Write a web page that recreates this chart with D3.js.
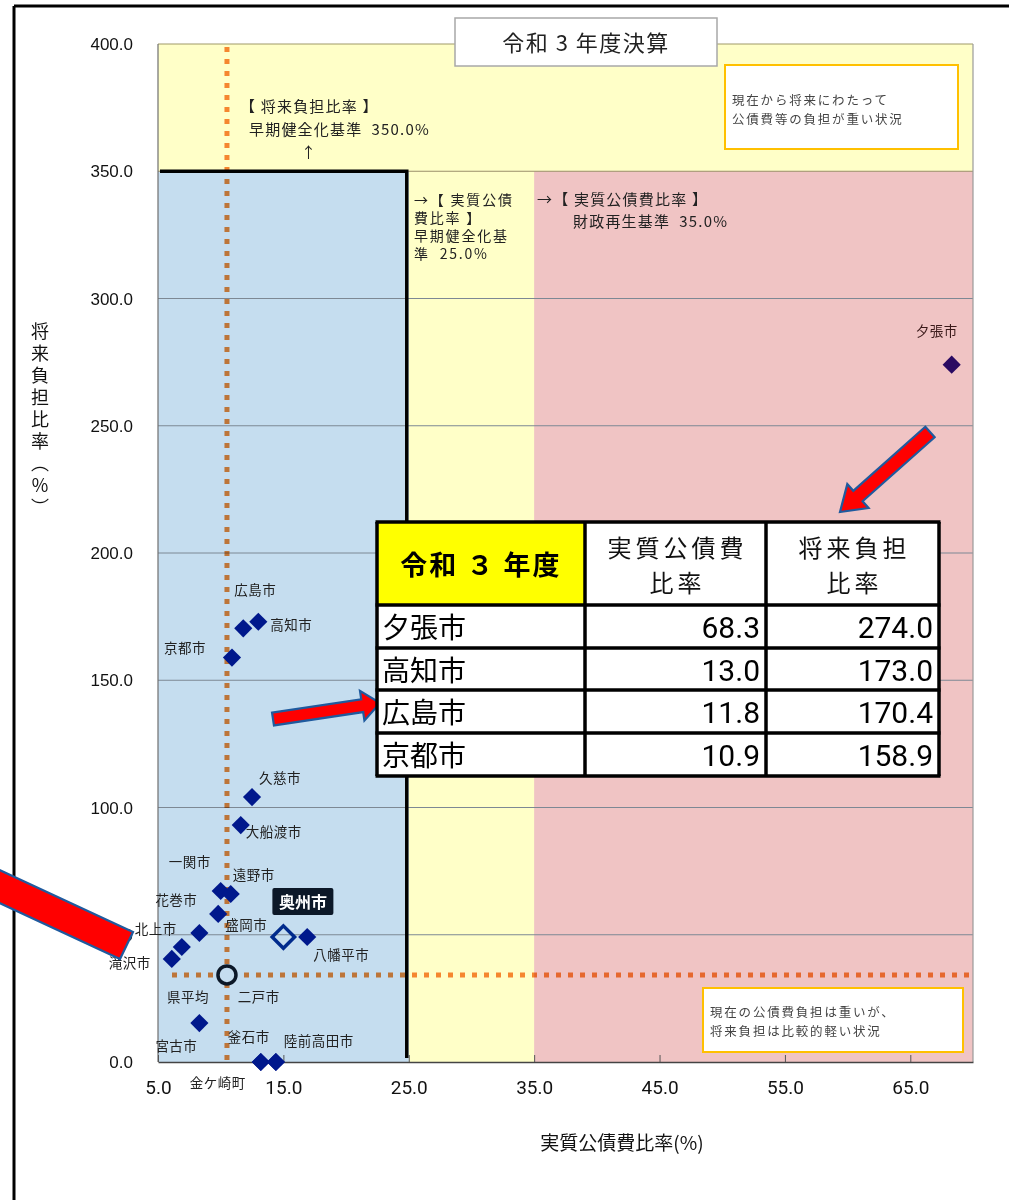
<!DOCTYPE html>
<html>
<head>
<meta charset="utf-8">
<script src="https://cdn.jsdelivr.net/npm/d3@7"></script>
<style>
  body { margin: 0; background: #fff; }
  svg text { font-family: "Noto Sans CJK JP", "Noto Sans", sans-serif; }
  svg text.num { font-family: Roboto, "Liberation Sans", sans-serif; }
</style>
</head>
<body>
<svg id="chart" width="1009" height="1200"></svg>
<script>
// ---- data ----
const cityNames   = ["夕張市", "高知市", "広島市", "京都市", "久慈市", "大船渡市", "一関市", "遠野市", "盛岡市", "花巻市",
                     "北上市", "滝沢市", "宮古市", "金ケ崎町", "釜石市", "二戸市", "陸前高田市", "八幡平市", "奥州市"];
const debtRatio   = [68.3, 13.0, 11.8, 10.9, 12.5, 11.6, 10.0, 10.8, 9.8, 8.3,
                     6.9, 6.1, 8.3, 13.2, 13.2, 14.4, 14.4, 16.9, 15.0];
const futureRatio = [274.0, 173.0, 170.4, 158.9, 104.1, 93.1, 67.2, 66.0, 58.2, 50.7,
                     45.2, 40.5, 15.3, 0, 0, 0, 0, 49.1, 49.1];
const highlightCity = "奥州市";
const avgName = "県平均";
const avgDebt = 10.5;
const avgFuture = 34.2;
const tableCities = ["夕張市", "高知市", "広島市", "京都市"];
const xTicks = [5, 15, 25, 35, 45, 55, 65];
const yTicks = [0, 50, 100, 150, 200, 250, 300, 350, 400];
const futureEarly = 350;   // 将来負担比率 早期健全化基準
const debtEarly = 25;      // 実質公債費比率 早期健全化基準
const debtRebuild = 35;    // 実質公債費比率 財政再生基準

const points = cityNames.map((n, i) => ({ name: n, x: debtRatio[i], y: futureRatio[i] }));

// label offsets from each marker (px): [dx, dy, anchor]
const labelPos = {
  "夕張市": [-15, -29, "middle"], "高知市": [12, 8, "start"], "広島市": [-9, -33, "start"],
  "京都市": [-26, -5, "end"], "久慈市": [7, -14, "start"], "大船渡市": [5, 12, "start"],
  "一関市": [-10, -24, "end"], "遠野市": [2, -14, "start"], "盛岡市": [7, 16, "start"],
  "花巻市": [-2, -28, "end"], "北上市": [-5, -13, "end"], "滝沢市": [-21, 9, "end"],
  "宮古市": [-2, 28, "end"], "金ケ崎町": [-15, 26, "end"], "釜石市": [-33, -20, "start"],
  "二戸市": [-38, -60, "start"], "陸前高田市": [8, -16, "start"], "八幡平市": [6, 23, "start"],
  "県平均": [-18, 27, "end"]
};

// ---- layout ----
const svg = d3.select("#chart");
const x = d3.scaleLinear().domain([5, 70]).range([158, 973]);
const y = d3.scaleLinear().domain([0, 400]).range([1062, 44]);

// outer frame
svg.append("line").attr("x1", 14).attr("x2", 1009).attr("y1", 6).attr("y2", 6)
  .attr("stroke", "#000").attr("stroke-width", 3);
svg.append("line").attr("x1", 14).attr("x2", 14).attr("y1", 6).attr("y2", 1200)
  .attr("stroke", "#000").attr("stroke-width", 3);

// zones
const zones = svg.append("g");
zones.append("rect").attr("x", x(5)).attr("y", y(400)).attr("width", x(70) - x(5)).attr("height", y(0) - y(400))
  .attr("fill", "#ffffc8");
zones.append("rect").attr("x", x(5)).attr("y", y(futureEarly)).attr("width", x(debtEarly) - x(5))
  .attr("height", y(0) - y(futureEarly)).attr("fill", "#c5ddef");
zones.append("rect").attr("x", x(debtRebuild)).attr("y", y(futureEarly)).attr("width", x(70) - x(debtRebuild))
  .attr("height", y(0) - y(futureEarly)).attr("fill", "#f0c4c4");

// gridlines
svg.append("g").selectAll("line").data(yTicks.filter(d => d > 0 && d < 400)).join("line")
  .attr("x1", x(5)).attr("x2", x(70)).attr("y1", d => y(d)).attr("y2", d => y(d))
  .attr("stroke", d => d === futureEarly ? "#9a8f6a" : "#7d8894").attr("stroke-width", 1);

// plot border
svg.append("line").attr("x1", x(5)).attr("x2", x(70)).attr("y1", y(400)).attr("y2", y(400))
  .attr("stroke", "#a09a68").attr("stroke-width", 1.2);
svg.append("line").attr("x1", x(70)).attr("x2", x(70)).attr("y1", y(400)).attr("y2", y(0))
  .attr("stroke", "#9a9a9a").attr("stroke-width", 1.2);
svg.append("line").attr("x1", x(5)).attr("x2", x(5)).attr("y1", y(400)).attr("y2", y(0))
  .attr("stroke", "#6f6f6f").attr("stroke-width", 1.2);

// x axis
const xAxis = svg.append("g").attr("transform", `translate(0,${y(0)})`)
  .call(d3.axisBottom(x).tickValues(xTicks).tickSizeInner(-7).tickSizeOuter(0).tickFormat(d3.format(".1f")));
xAxis.select(".domain").attr("stroke", "#444").attr("stroke-width", 1.5);
xAxis.selectAll(".tick line").attr("stroke", "#555");
xAxis.selectAll(".tick text").attr("y", 19).attr("font-size", 19).attr("fill", "#111")
  .attr("class", "num");

// y axis labels
svg.append("g").selectAll("text").data(yTicks).join("text")
  .attr("x", 133).attr("y", d => y(d) + 6).attr("text-anchor", "end")
  .attr("font-size", 17).attr("fill", "#111")
  .style("font-family", '"Liberation Sans", Arial, sans-serif')
  .text(d => d3.format(".1f")(d));

// axis titles
svg.append("text").attr("x", 622).attr("y", 1150).attr("text-anchor", "middle")
  .attr("font-size", 19).attr("fill", "#111")
  .text("実質公債費比率(%)");
svg.append("text").attr("transform", "translate(40,322)")
  .style("writing-mode", "vertical-rl").attr("font-size", 18).attr("letter-spacing", 4)
  .attr("fill", "#111").text("将来負担比率（％）");

// criteria line (black)
svg.append("path")
  .attr("d", `M${x(5) + 2},${y(futureEarly)} H${x(debtEarly) - 2} V${y(0) - 4}`)
  .attr("fill", "none").attr("stroke", "#000").attr("stroke-width", 3.5);

// average dotted lines
const dots = svg.append("g").style("mix-blend-mode", "multiply");
dots.append("line").attr("x1", x(avgDebt)).attr("x2", x(avgDebt)).attr("y1", y(400) + 3).attr("y2", y(0) - 2)
  .attr("stroke", "#f5873c").attr("stroke-width", 5).attr("stroke-dasharray", "5,7");
dots.append("line").attr("x1", x(5) + 14).attr("x2", x(70)).attr("y1", y(avgFuture)).attr("y2", y(avgFuture))
  .attr("stroke", "#f5873c").attr("stroke-width", 5).attr("stroke-dasharray", "5,7");

// annotations text
const ann = svg.append("g").attr("fill", "#222");
[["【 将来負担比率 】", 240, 112], ["早期健全化基準  350.0%", 249, 135], ["↑", 301, 158],
 ["→【 実質公債", 414, 205], ["費比率 】", 414, 223], ["早期健全化基", 414, 241], ["準  25.0%", 414, 259],
 ["→【 実質公債費比率 】", 537, 205], ["財政再生基準  35.0%", 573, 227]]
  .forEach(([t, tx, ty]) => ann.append("text").attr("x", tx).attr("y", ty)
    .attr("font-size", tx === 414 ? 14 : 15).attr("letter-spacing", tx === 414 ? 1.8 : 1.2)
    .attr("xml:space", "preserve").text(t));

// title box
svg.append("rect").attr("x", 455).attr("y", 18).attr("width", 262).attr("height", 48)
  .attr("fill", "#fff").attr("stroke", "#a8a8a8").attr("stroke-width", 1.5);
svg.append("text").attr("x", 586).attr("y", 51).attr("text-anchor", "middle")
  .attr("font-size", 22).attr("letter-spacing", 1.5).attr("fill", "#222").text("令和 3 年度決算");

// note boxes
function noteBox(bx, by, bw, bh, lines, ly) {
  svg.append("rect").attr("x", bx).attr("y", by).attr("width", bw).attr("height", bh)
    .attr("fill", "#fff").attr("stroke", "#ffc000").attr("stroke-width", 2);
  lines.forEach((t, i) => svg.append("text").attr("x", bx + 7).attr("y", ly + i * 18.5)
    .attr("font-size", 12.5).attr("letter-spacing", 1.8).attr("fill", "#444").text(t));
}
noteBox(725, 65, 233, 84, ["現在から将来にわたって", "公債費等の負担が重い状況"], 105);
noteBox(703, 988, 260, 64, ["現在の公債費負担は重いが、", "将来負担は比較的軽い状況"], 1017);

// points
const sym = d3.symbol(d3.symbolSquare, 165);
svg.append("g").selectAll("path").data(points.filter(d => d.name !== highlightCity)).join("path")
  .attr("d", sym)
  .attr("transform", d => `translate(${x(d.x)},${y(d.y)}) rotate(45)`)
  .attr("fill", d => d.x > debtRebuild ? "#2a0a62" : "#00188c");

const hl = points.find(d => d.name === highlightCity);
svg.append("path").attr("d", d3.symbol(d3.symbolSquare, 250))
  .attr("transform", `translate(${x(hl.x)},${y(hl.y)}) rotate(45)`)
  .attr("fill", "none").attr("stroke", "#002a8c").attr("stroke-width", 3.5);
svg.append("rect").attr("x", x(hl.x) - 11).attr("y", y(hl.y) - 49).attr("width", 61).attr("height", 27)
  .attr("rx", 2).attr("fill", "#0c1828");
svg.append("text").attr("x", x(hl.x) + 19.5).attr("y", y(hl.y) - 29).attr("text-anchor", "middle")
  .attr("font-size", 16).attr("font-weight", "bold").attr("fill", "#fff").text(hl.name);

svg.append("circle").attr("cx", x(avgDebt)).attr("cy", y(avgFuture)).attr("r", 9)
  .attr("fill", "#c5ddef").attr("stroke", "#0c1828").attr("stroke-width", 3.5);

// point labels
const lab = svg.append("g").attr("font-size", 13.5).attr("letter-spacing", 0.5).attr("fill", "#222");
points.filter(d => d.name !== highlightCity).concat([{ name: avgName, x: avgDebt, y: avgFuture }])
  .forEach(d => {
    const [dx, dy, anchor] = labelPos[d.name];
    lab.append("text").attr("x", x(d.x) + dx).attr("y", y(d.y) + dy)
      .attr("text-anchor", anchor).attr("fill", d.x > debtRebuild ? "#3a1a1a" : "#222").text(d.name);
  });

// red arrows
function arrow(x0, y0, x1, y1, sw, hw, hl) {
  const a = Math.atan2(y1 - y0, x1 - x0), L = Math.hypot(x1 - x0, y1 - y0);
  const pts = [[0, -sw / 2], [L - hl, -sw / 2], [L - hl, -hw / 2], [L, 0], [L - hl, hw / 2], [L - hl, sw / 2], [0, sw / 2]]
    .map(([u, v]) => [x0 + u * Math.cos(a) - v * Math.sin(a), y0 + u * Math.sin(a) + v * Math.cos(a)]);
  svg.append("polygon").attr("points", pts.join(" "))
    .attr("fill", "#ff0000").attr("stroke", "#1f5a9e").attr("stroke-width", 2.2).attr("stroke-linejoin", "miter");
}
arrow(273, 719, 380, 703, 13, 30, 18);
arrow(930, 432, 840, 512, 14, 32, 24);
svg.append("polygon").attr("points", "-5,868 133,932 120,959 -5,901")
  .attr("fill", "#ff0000").attr("stroke", "#1f5a9e").attr("stroke-width", 2.2);

// table
const colX = [377, 585, 766, 939];
const rowY = [522, 605, 648, 690, 733, 776];
const tbl = svg.append("g");
tbl.append("rect").attr("x", colX[0]).attr("y", rowY[0]).attr("width", colX[3] - colX[0])
  .attr("height", rowY[5] - rowY[0]).attr("fill", "#fff");
tbl.append("rect").attr("x", colX[0]).attr("y", rowY[0]).attr("width", colX[1] - colX[0])
  .attr("height", rowY[1] - rowY[0]).attr("fill", "#ffff00");
colX.forEach(cx => tbl.append("line").attr("x1", cx).attr("x2", cx).attr("y1", rowY[0]).attr("y2", rowY[5])
  .attr("stroke", "#000").attr("stroke-width", 3.5));
rowY.forEach(ry => tbl.append("line").attr("x1", colX[0] - 1.5).attr("x2", colX[3] + 1.5).attr("y1", ry).attr("y2", ry)
  .attr("stroke", "#000").attr("stroke-width", 3.5));
tbl.append("text").attr("x", (colX[0] + colX[1]) / 2).attr("y", 575).attr("text-anchor", "middle")
  .attr("font-size", 27).attr("font-weight", "bold").attr("letter-spacing", 2).attr("fill", "#000")
  .attr("xml:space", "preserve").text("令和 ３ 年度");
[["実質公債費", "比率"], ["将来負担", "比率"]].forEach((ls, i) => {
  ls.forEach((t, j) => tbl.append("text").attr("x", (colX[i + 1] + colX[i + 2]) / 2 + 2).attr("y", 557 + j * 35)
    .attr("text-anchor", "middle").attr("font-size", 24).attr("letter-spacing", 4).attr("fill", "#111").text(t));
});
tableCities.forEach((n, i) => {
  const p = points.find(d => d.name === n);
  const by = rowY[i + 1] + 33;
  tbl.append("text").attr("x", colX[0] + 5).attr("y", by).attr("font-size", 28).attr("fill", "#000").text(n);
  tbl.append("text").attr("x", colX[2] - 6).attr("y", by).attr("text-anchor", "end").attr("font-size", 30)
    .attr("fill", "#000").attr("class", "num").text(p.x.toFixed(1));
  tbl.append("text").attr("x", colX[3] - 6).attr("y", by).attr("text-anchor", "end").attr("font-size", 30)
    .attr("fill", "#000").attr("class", "num").text(p.y.toFixed(1));
});
</script>
</body>
</html>
